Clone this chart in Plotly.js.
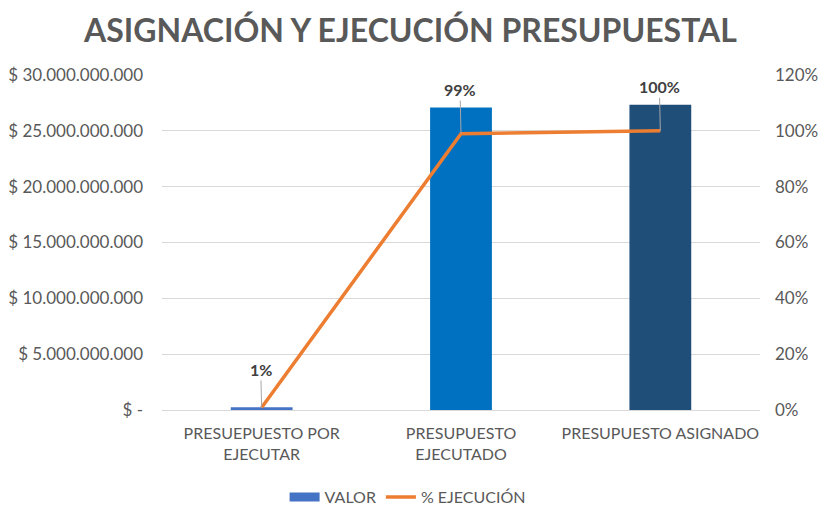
<!DOCTYPE html>
<html>
<head>
<meta charset="utf-8">
<script src="https://cdn.plot.ly/plotly-3.0.1.min.js"></script>
<style>html,body{margin:0;padding:0;background:#fff;}#chart{width:821px;height:508px;}</style>
</head>
<body>
<div id="chart"></div>
<script>
const categories = ["PRESUEPUESTO POR<br>EJECUTAR", "PRESUPUESTO<br>EJECUTADO", "PRESUPUESTO ASIGNADO"];
const valores = [250000000, 27080000000, 27330000000];
const ejecucion = [0.009, 0.99, 1.0];
const etiquetas = ["1%", "99%", "100%"];
const barColors = ["#4472C4", "#0070C0", "#1F4E79"];
const leftTickVals = [0, 5e9, 10e9, 15e9, 20e9, 25e9, 30e9];
const leftTickText = ["$ -", "$ 5.000.000.000", "$ 10.000.000.000", "$ 15.000.000.000", "$ 20.000.000.000", "$ 25.000.000.000", "$ 30.000.000.000"];
const rightTickVals = [0, 0.2, 0.4, 0.6, 0.8, 1.0, 1.2];
const rightTickText = ["0%", "20%", "40%", "60%", "80%", "100%", "120%"];

const font = "Lato, 'Open Sans', sans-serif";

const traces = [
  {
    type: "bar", name: "VALOR", x: categories, y: valores,
    marker: {color: barColors}, width: 0.31, yaxis: "y",
    hoverinfo: "skip", showlegend: false
  },
  {
    type: "scatter", mode: "lines", name: "VALOR", x: [categories[0]], y: [null],
    line: {color: "#4472C4", width: 9}, yaxis: "y", hoverinfo: "skip", showlegend: true
  },
  {
    type: "scatter", mode: "lines", name: "% EJECUCIÓN", x: categories, y: ejecucion,
    line: {color: "#ED7D31", width: 3.5}, yaxis: "y2", hoverinfo: "skip"
  }
];

const annotations = categories.map((c, i) => ({
  x: c, y: ejecucion[i], xref: "x", yref: "y2",
  text: "<b>" + etiquetas[i] + "</b>",
  showarrow: true, arrowhead: 0, arrowwidth: 1, arrowcolor: "#a6a6a6",
  ax: -1, ay: i === 0 ? -38 : -44,
  font: {family: font, size: 16, color: "#404040"}
}));

const layout = {
  width: 821, height: 508,
  margin: {l: 162, r: 61, t: 75, b: 98, autoexpand: false},
  paper_bgcolor: "#fff", plot_bgcolor: "#fff",
  title: {text: "<b>ASIGNACIÓN Y EJECUCIÓN PRESUPUESTAL</b>", x: 0.5, xanchor: "center", y: 0.94, yanchor: "middle",
          font: {family: font, size: 32, color: "#595959"}},
  showlegend: true,
  legend: {orientation: "h", x: 0.205, xanchor: "left", y: -0.26, yanchor: "middle",
           itemwidth: 30,
           font: {family: font, size: 16, color: "#595959"}, traceorder: "normal"},
  xaxis: {tickfont: {family: font, size: 16, color: "#595959"}, showgrid: false, showline: false, ticks: "",
          ticklabelstandoff: 12, automargin: false},
  yaxis: {range: [0, 30e9], tickvals: leftTickVals, ticktext: leftTickText, showgrid: true,
          gridcolor: "#d9d9d9", zeroline: true, zerolinecolor: "#d9d9d9", zerolinewidth: 1,
          tickfont: {family: font, size: 17, color: "#595959"}, ticks: "", ticklabelstandoff: 18, automargin: false},
  yaxis2: {range: [0, 1.2], tickvals: rightTickVals, ticktext: rightTickText, overlaying: "y", side: "right",
           showgrid: false, zeroline: false, tickfont: {family: font, size: 17, color: "#595959"},
           ticks: "", ticklabelstandoff: 14, automargin: false},
  annotations: annotations
};

Plotly.newPlot("chart", traces, layout, {displayModeBar: false, staticPlot: true});
</script>
</body>
</html>
